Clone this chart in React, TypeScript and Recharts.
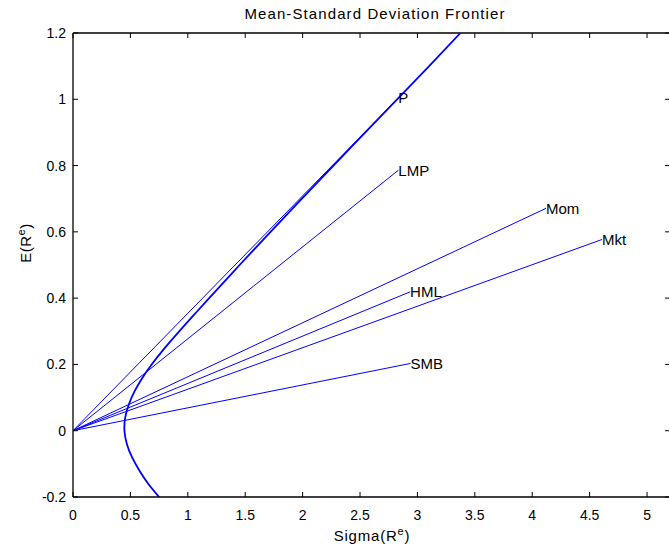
import { LineChart, Line, XAxis, YAxis, ReferenceLine, LabelList } from 'recharts';

const FONT = '"Liberation Sans", Arial, Helvetica, sans-serif';
const BLUE = '#0000ff';

// plot box in pixels (chart is a bit wider than the window, right border falls off-screen)
const W = 680;
const H = 547;
const PLOT = { left: 73, top: 33, right: 670, bottom: 497 };

const X_TICKS = [0, 0.5, 1, 1.5, 2, 2.5, 3, 3.5, 4, 4.5, 5];
const Y_TICKS = [-0.2, 0, 0.2, 0.4, 0.6, 0.8, 1, 1.2];

const ASSETS = ['P', 'LMP', 'Mom', 'Mkt', 'HML', 'SMB'];
const ASSET_SIGMA = [2.834, 2.834, 4.12, 4.608, 2.936, 2.94];
const ASSET_MEAN = [1.004, 0.786, 0.671, 0.577, 0.419, 0.203];

// mean-variance frontier (bottom to top)
const FRONTIER_SIGMA = [
  0.75, 0.655, 0.578, 0.514, 0.469, 0.448, 0.455, 0.487, 0.538, 0.605, 0.685, 0.8, 0.925,
  1.055, 1.186, 1.451, 1.721, 1.994, 2.269, 2.546, 2.823, 3.102, 3.375,
];
const FRONTIER_MEAN = [
  -0.2, -0.16, -0.12, -0.08, -0.04, 0.0, 0.04, 0.08, 0.12, 0.16, 0.2, 0.25, 0.3,
  0.35, 0.4, 0.5, 0.6, 0.7, 0.8, 0.9, 1.0, 1.1, 1.2,
];

const frontier = FRONTIER_SIGMA.map((s, i) => ({ s, m: FRONTIER_MEAN[i] }));
const assetLines = ASSETS.map((name, i) => ({
  name,
  data: [
    { s: 0, m: 0 },
    { s: ASSET_SIGMA[i], m: ASSET_MEAN[i], name },
  ],
}));

function XTick({ x, payload }: { x?: number; payload?: { value: number } }) {
  const v = payload?.value ?? 0;
  return (
    <g>
      <line x1={x} x2={x} y1={PLOT.bottom} y2={PLOT.bottom - 5} stroke="#000" />
      <line x1={x} x2={x} y1={PLOT.top} y2={PLOT.top + 5} stroke="#000" />
      <text x={x} y={PLOT.bottom + 23} textAnchor="middle" fontSize={14} fontFamily={FONT} fill="#000">
        {String(v)}
      </text>
    </g>
  );
}

function YTick({ y, payload }: { y?: number; payload?: { value: number } }) {
  const v = payload?.value ?? 0;
  return (
    <g>
      <line x1={PLOT.left} x2={PLOT.left + 5} y1={y} y2={y} stroke="#000" />
      <line x1={PLOT.right} x2={PLOT.right - 5} y1={y} y2={y} stroke="#000" />
      <text x={PLOT.left - 7} y={(y ?? 0) + 5} textAnchor="end" fontSize={14} fontFamily={FONT} fill="#000">
        {String(v)}
      </text>
    </g>
  );
}

function EndLabel(props: any) {
  const { x, y, index, value } = props;
  if (index !== 1) return null;
  return (
    <text x={x} y={y + 5.5} fontSize={15} fontFamily={FONT} fill="#000">
      {value}
    </text>
  );
}

export default function App() {
  return (
    <div style={{ position: 'absolute', left: 0, top: 0, width: 669, height: H, overflow: 'hidden', background: '#fff' }}>
      <LineChart width={W} height={H} margin={{ top: PLOT.top, right: W - PLOT.right, left: 0, bottom: 0 }}>
        <text x={375} y={19} textAnchor="middle" fontSize={15} fontFamily={FONT} fill="#000" letterSpacing={1.1}>
          Mean-Standard Deviation Frontier
        </text>
        <text x={372} y={541} textAnchor="middle" fontSize={15} fontFamily={FONT} fill="#000" letterSpacing={0.8}>
          Sigma(R
          <tspan dy={-6} fontSize={11}>e</tspan>
          <tspan dy={6}>)</tspan>
        </text>
        <text
          x={0}
          y={0}
          transform="translate(31 243) rotate(-90)"
          textAnchor="middle"
          fontSize={15}
          fontFamily={FONT}
          fill="#000"
          letterSpacing={0.5}
        >
          E(R
          <tspan dy={-6} fontSize={11}>e</tspan>
          <tspan dy={6}>)</tspan>
        </text>
        <XAxis
          type="number"
          dataKey="s"
          domain={[0, 5.2]}
          ticks={X_TICKS}
          allowDataOverflow
          height={H - PLOT.bottom}
          stroke="#000"
          strokeWidth={1.3}
          tickLine={false}
          tick={<XTick />}
          interval={0}
        />
        <YAxis
          type="number"
          dataKey="m"
          domain={[-0.2, 1.2]}
          ticks={Y_TICKS}
          allowDataOverflow
          width={PLOT.left}
          stroke="#000"
          strokeWidth={1.3}
          tickLine={false}
          tick={<YTick />}
          interval={0}
        />
        <ReferenceLine y={1.2} stroke="#000" strokeWidth={1.3} />
        <ReferenceLine x={5.2} stroke="#000" strokeWidth={1.3} />
        {assetLines.map((a) => (
          <Line
            key={a.name}
            data={a.data}
            dataKey="m"
            type="linear"
            stroke={BLUE}
            strokeWidth={1}
            dot={false}
            activeDot={false}
            isAnimationActive={false}
          >
            <LabelList dataKey="name" content={EndLabel} />
          </Line>
        ))}
        <Line
          data={frontier}
          dataKey="m"
          type="natural"
          stroke={BLUE}
          strokeWidth={1.8}
          dot={false}
          activeDot={false}
          isAnimationActive={false}
        />
      </LineChart>
    </div>
  );
}
